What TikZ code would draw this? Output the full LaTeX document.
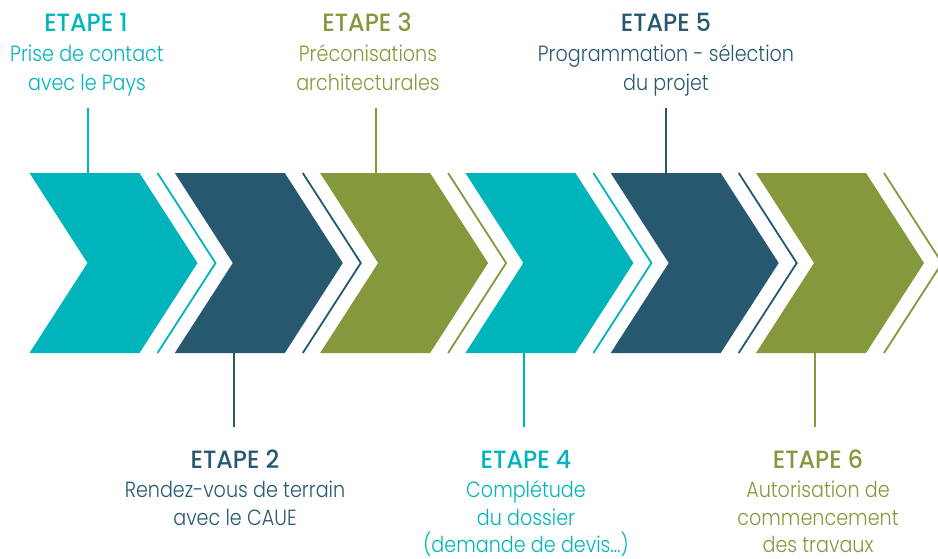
\documentclass[tikz,border=0pt]{standalone}
\usepackage{fontspec}
\newfontfamily\headfont{Poppins Medium}[FakeStretch=0.95]
\newfontfamily\bodyfont{Poppins Light}[FakeStretch=0.87]
\definecolor{cteal}{RGB}{0,180,188}
\definecolor{cblue}{RGB}{38,88,112}
\definecolor{cgreen}{RGB}{133,152,59}
\begin{document}
\begin{tikzpicture}[x=1pt,y=-1pt,
  head/.style={anchor=base, inner sep=0pt, font=\headfont\fontsize{25}{25}\selectfont},
  body/.style={anchor=base, inner sep=0pt, font=\bodyfont\fontsize{22}{22}\selectfont},
  stem/.style={line width=2.2pt},
  chevline/.style={line width=1.8pt, miter limit=10}]
\useasboundingbox (0,0) rectangle (938,558);
% chevrons
\foreach \i/\c in {0/cteal,1/cblue,2/cgreen,3/cteal,4/cblue,5/cgreen}{
  \pgfmathsetmacro\xo{29.5+145.3*\i}
  \fill[\c] (\xo,173) -- ++(110,0) -- ++(58,90) -- ++(-58,90) -- ++(-110,0) -- ++(58,-90) -- cycle;
  \draw[\c, chevline] (\xo+128,173) -- ++(58,90) -- ++(-58,90);
}
% step 1
\node[head, text=cteal] (h1) at (86,31.5) {ETAPE 1};
\node[body, text=cteal] (a1) at (87,61) {Prise de contact};
\node[body, text=cteal] (b1) at (87,90) {avec le Pays};
\coordinate (t1) at (88,108);
\coordinate (c1) at (88,173);
\draw[stem, cteal] (t1) -- (c1);
% step 3
\node[head, text=cgreen] (h3) at (367,31.5) {ETAPE 3};
\node[body, text=cgreen] (a3) at (368,61) {Préconisations};
\node[body, text=cgreen] (b3) at (368,90) {architecturales};
\coordinate (t3) at (375.7,108);
\coordinate (c3) at (375.7,173);
\draw[stem, cgreen] (t3) -- (c3);
% step 5
\node[head, text=cblue] (h5) at (666,31.5) {ETAPE 5};
\node[body, text=cblue] (a5) at (666,61) {Programmation - sélection};
\node[body, text=cblue] (b5) at (666,90) {du projet};
\coordinate (t5) at (665.7,108);
\coordinate (c5) at (665.7,173);
\draw[stem, cblue] (t5) -- (c5);
% step 2
\coordinate (c2) at (234,353);
\coordinate (t2) at (234,427);
\draw[stem, cblue] (c2) -- (t2);
\node[head, text=cblue] (h2) at (235,468) {ETAPE 2};
\node[body, text=cblue] (a2) at (235,497) {Rendez-vous de terrain};
\node[body, text=cblue] (b2) at (235,525.5) {avec le CAUE};
% step 4
\coordinate (c4) at (524.3,353);
\coordinate (t4) at (524.3,427);
\draw[stem, cteal] (c4) -- (t4);
\node[head, text=cteal] (h4) at (526,468) {ETAPE 4};
\node[body, text=cteal] (a4) at (526,497) {Complétude};
\node[body, text=cteal] (b4) at (526,525.5) {du dossier};
\node[body, text=cteal] (d4) at (526,552) {(demande de devis…)};
% step 6
\coordinate (c6) at (815,353);
\coordinate (t6) at (815,427);
\draw[stem, cgreen] (c6) -- (t6);
\node[head, text=cgreen] (h6) at (818,468) {ETAPE 6};
\node[body, text=cgreen] (a6) at (818,497) {Autorisation de};
\node[body, text=cgreen] (b6) at (818,525.5) {commencement};
\node[body, text=cgreen] (d6) at (818,552) {des travaux};
\end{tikzpicture}
\end{document}
